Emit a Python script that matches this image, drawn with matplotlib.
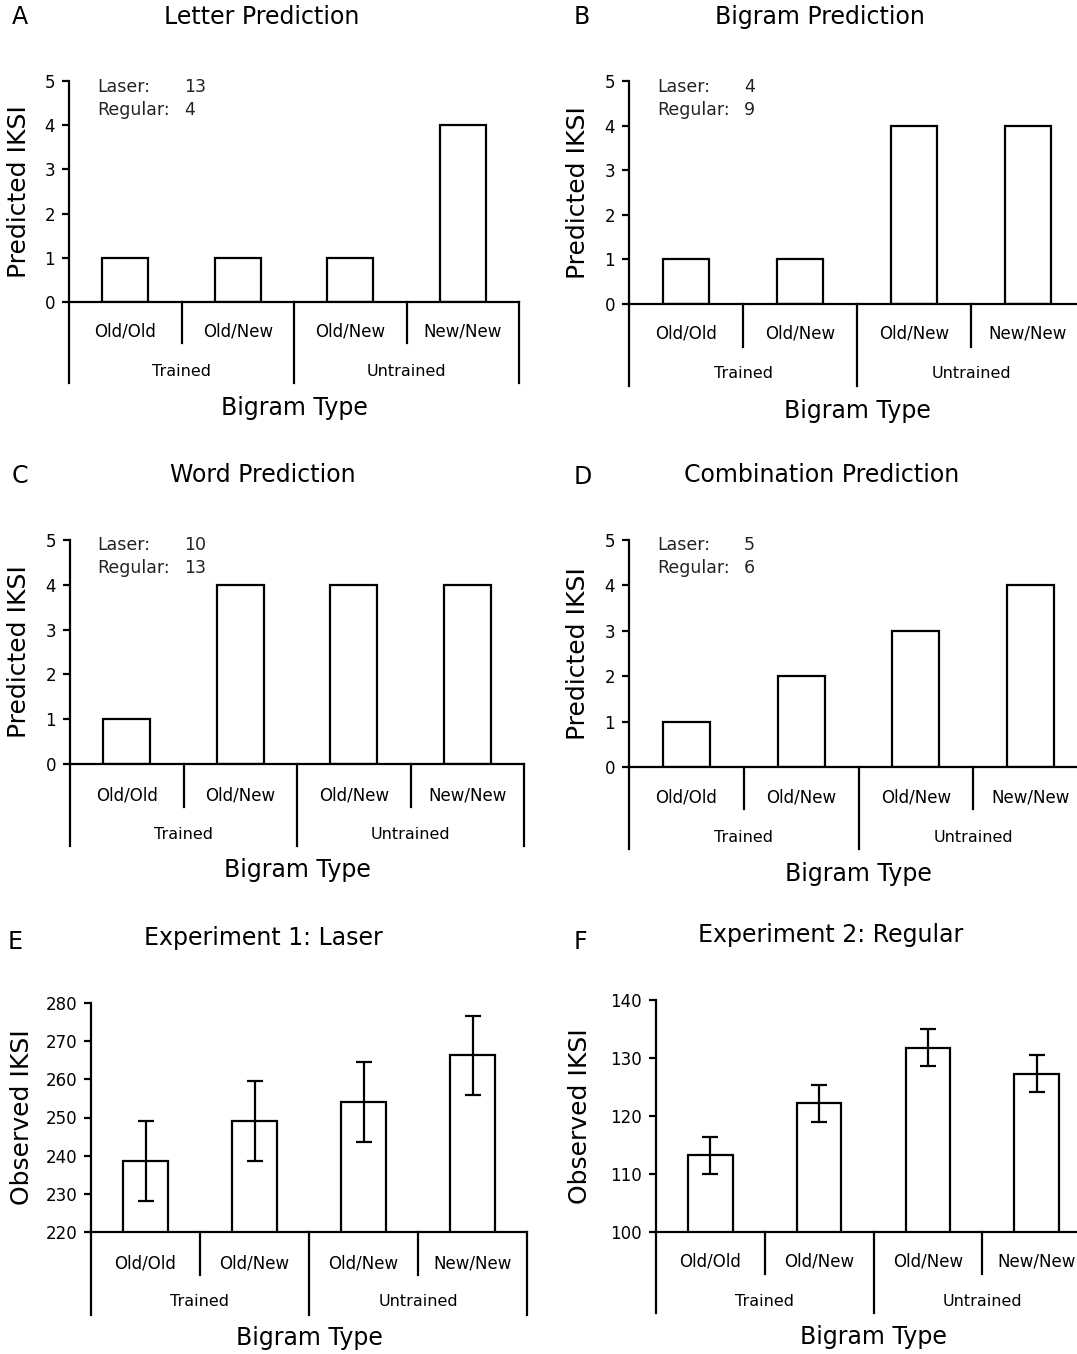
import numpy as np
import matplotlib.pyplot as plt

# figure is 1077 x 1354 px, positions below are given in pixels
W, H = 1077, 1354

categories = ['Old/Old', 'Old/New', 'Old/New', 'New/New']
groups = ['Trained', 'Untrained']

letter_pred = [1, 1, 1, 4]
bigram_pred = [1, 1, 4, 4]
word_pred = [1, 4, 4, 4]
combo_pred = [1, 2, 3, 4]

laser_counts = [13, 4, 10, 5]
regular_counts = [4, 9, 13, 6]

exp1_means = [238.7, 249.0, 254.1, 266.3]
exp1_err = [10.5, 10.5, 10.4, 10.4]
exp2_means = [113.2, 122.2, 131.8, 127.3]
exp2_err = [3.15, 3.2, 3.25, 3.2]

plt.rcParams['font.family'] = 'DejaVu Sans'

fig = plt.figure(figsize=(W / 100, H / 100), dpi=100)


def px_rect(l, r, t, b):
    return [l / W, 1 - b / H, (r - l) / W, (b - t) / H]


def draw_panel(lay, vals, ylim, yticks, ylabel, err=None, laser=None, regular=None):
    l, r, t, b = lay['box']
    ax = fig.add_axes(px_rect(l, r, t, b))
    x = np.arange(len(vals))
    ax.bar(x, vals, width=0.41, color='white', edgecolor='black', linewidth=1.6, zorder=2)
    if err is not None:
        ax.errorbar(x, vals, yerr=err, fmt='none', ecolor='black', elinewidth=1.6,
                    capsize=6, capthick=1.6, zorder=3)
    ax.set_xlim(-0.5, 3.5)
    ax.set_ylim(*ylim)
    ax.set_yticks(yticks)
    ax.set_xticks([])
    ax.spines['top'].set_visible(False)
    ax.spines['right'].set_visible(False)
    ax.spines['left'].set_linewidth(1.6)
    ax.spines['bottom'].set_linewidth(1.6)
    ax.tick_params(axis='y', direction='out', length=5, width=1.6, labelsize=12, pad=5)

    fr = lambda y: (b - y) / (b - t)   # pixel row -> axes fraction
    tr = ax.get_xaxis_transform()
    for xv in [-0.5, 1.5, 3.5]:
        ax.plot([xv, xv], [0, fr(lay['long'])], transform=tr, clip_on=False, color='black', lw=1.6)
    for xv in [0.5, 2.5]:
        ax.plot([xv, xv], [0, fr(lay['short'])], transform=tr, clip_on=False, color='black', lw=1.6)
    for i, c in enumerate(categories):
        ax.text(i, fr(lay['cat']), c, transform=tr, ha='center', va='center', fontsize=12)
    for j, g in enumerate(groups):
        ax.text(0.5 + 2 * j, fr(lay['grp']), g, transform=tr, ha='center', va='center', fontsize=11.5)

    ax.set_xlabel('Bigram Type', fontsize=17, va='center')
    ax.xaxis.set_label_coords(0.5, fr(lay['xlab']))
    ax.set_ylabel(ylabel, fontsize=18, va='center')
    ax.yaxis.set_label_coords((lay['ylab'] - l) / (r - l), 0.5)

    tx, ty = lay['title']
    fig.text(tx / W, 1 - ty / H, lay['name'], ha='center', va='center', fontsize=17)
    lx, ly = lay['letter']
    fig.text(lx / W, 1 - ly / H, lay['tag'], ha='center', va='center', fontsize=17)

    if laser is not None:
        ax0, ay0 = lay['annot']
        fig.text(ax0 / W, 1 - ay0 / H, 'Laser:', ha='left', va='center', fontsize=12.5, color='#222222')
        fig.text(ax0 / W, 1 - (ay0 + 23) / H, 'Regular:', ha='left', va='center', fontsize=12.5, color='#222222')
        fig.text((ax0 + 87) / W, 1 - ay0 / H, str(laser), ha='left', va='center', fontsize=12.5, color='#222222')
        fig.text((ax0 + 87) / W, 1 - (ay0 + 23) / H, str(regular), ha='left', va='center', fontsize=12.5, color='#222222')
    return ax


lay_a = dict(tag='A', name='Letter Prediction', box=(69, 519, 81, 302), short=343, long=383,
             cat=332, grp=371, xlab=408, title=(262, 17), letter=(20, 17), ylab=19, annot=(97, 87))
lay_b = dict(tag='B', name='Bigram Prediction', box=(629, 1085, 81, 304), short=347, long=386,
             cat=334, grp=373, xlab=411, title=(820, 17), letter=(582, 17), ylab=578, annot=(657, 87))
lay_c = dict(tag='C', name='Word Prediction', box=(70, 524, 540, 764), short=807, long=846,
             cat=795, grp=834, xlab=870, title=(263, 475), letter=(20, 476), ylab=19, annot=(97, 545))
lay_d = dict(tag='D', name='Combination Prediction', box=(629, 1088, 540, 767), short=809, long=849,
             cat=798, grp=837, xlab=874, title=(822, 475), letter=(583, 477), ylab=578, annot=(657, 545))
lay_e = dict(tag='E', name='Experiment 1: Laser', box=(91, 527, 1003, 1232), short=1275, long=1315,
             cat=1263, grp=1302, xlab=1338, title=(263, 938), letter=(15, 942), ylab=22)
lay_f = dict(tag='F', name='Experiment 2: Regular', box=(656, 1091, 1000, 1232), short=1274, long=1313,
             cat=1262, grp=1302, xlab=1337, title=(831, 935), letter=(580, 942), ylab=580)

pred_ticks = [0, 1, 2, 3, 4, 5]
draw_panel(lay_a, letter_pred, (0, 5), pred_ticks, 'Predicted IKSI', laser=laser_counts[0], regular=regular_counts[0])
draw_panel(lay_b, bigram_pred, (0, 5), pred_ticks, 'Predicted IKSI', laser=laser_counts[1], regular=regular_counts[1])
draw_panel(lay_c, word_pred, (0, 5), pred_ticks, 'Predicted IKSI', laser=laser_counts[2], regular=regular_counts[2])
draw_panel(lay_d, combo_pred, (0, 5), pred_ticks, 'Predicted IKSI', laser=laser_counts[3], regular=regular_counts[3])
draw_panel(lay_e, exp1_means, (220, 280), np.arange(220, 281, 10), 'Observed IKSI', err=exp1_err)
draw_panel(lay_f, exp2_means, (100, 140), np.arange(100, 141, 10), 'Observed IKSI', err=exp2_err)

fig.savefig('out.png', dpi=100)
